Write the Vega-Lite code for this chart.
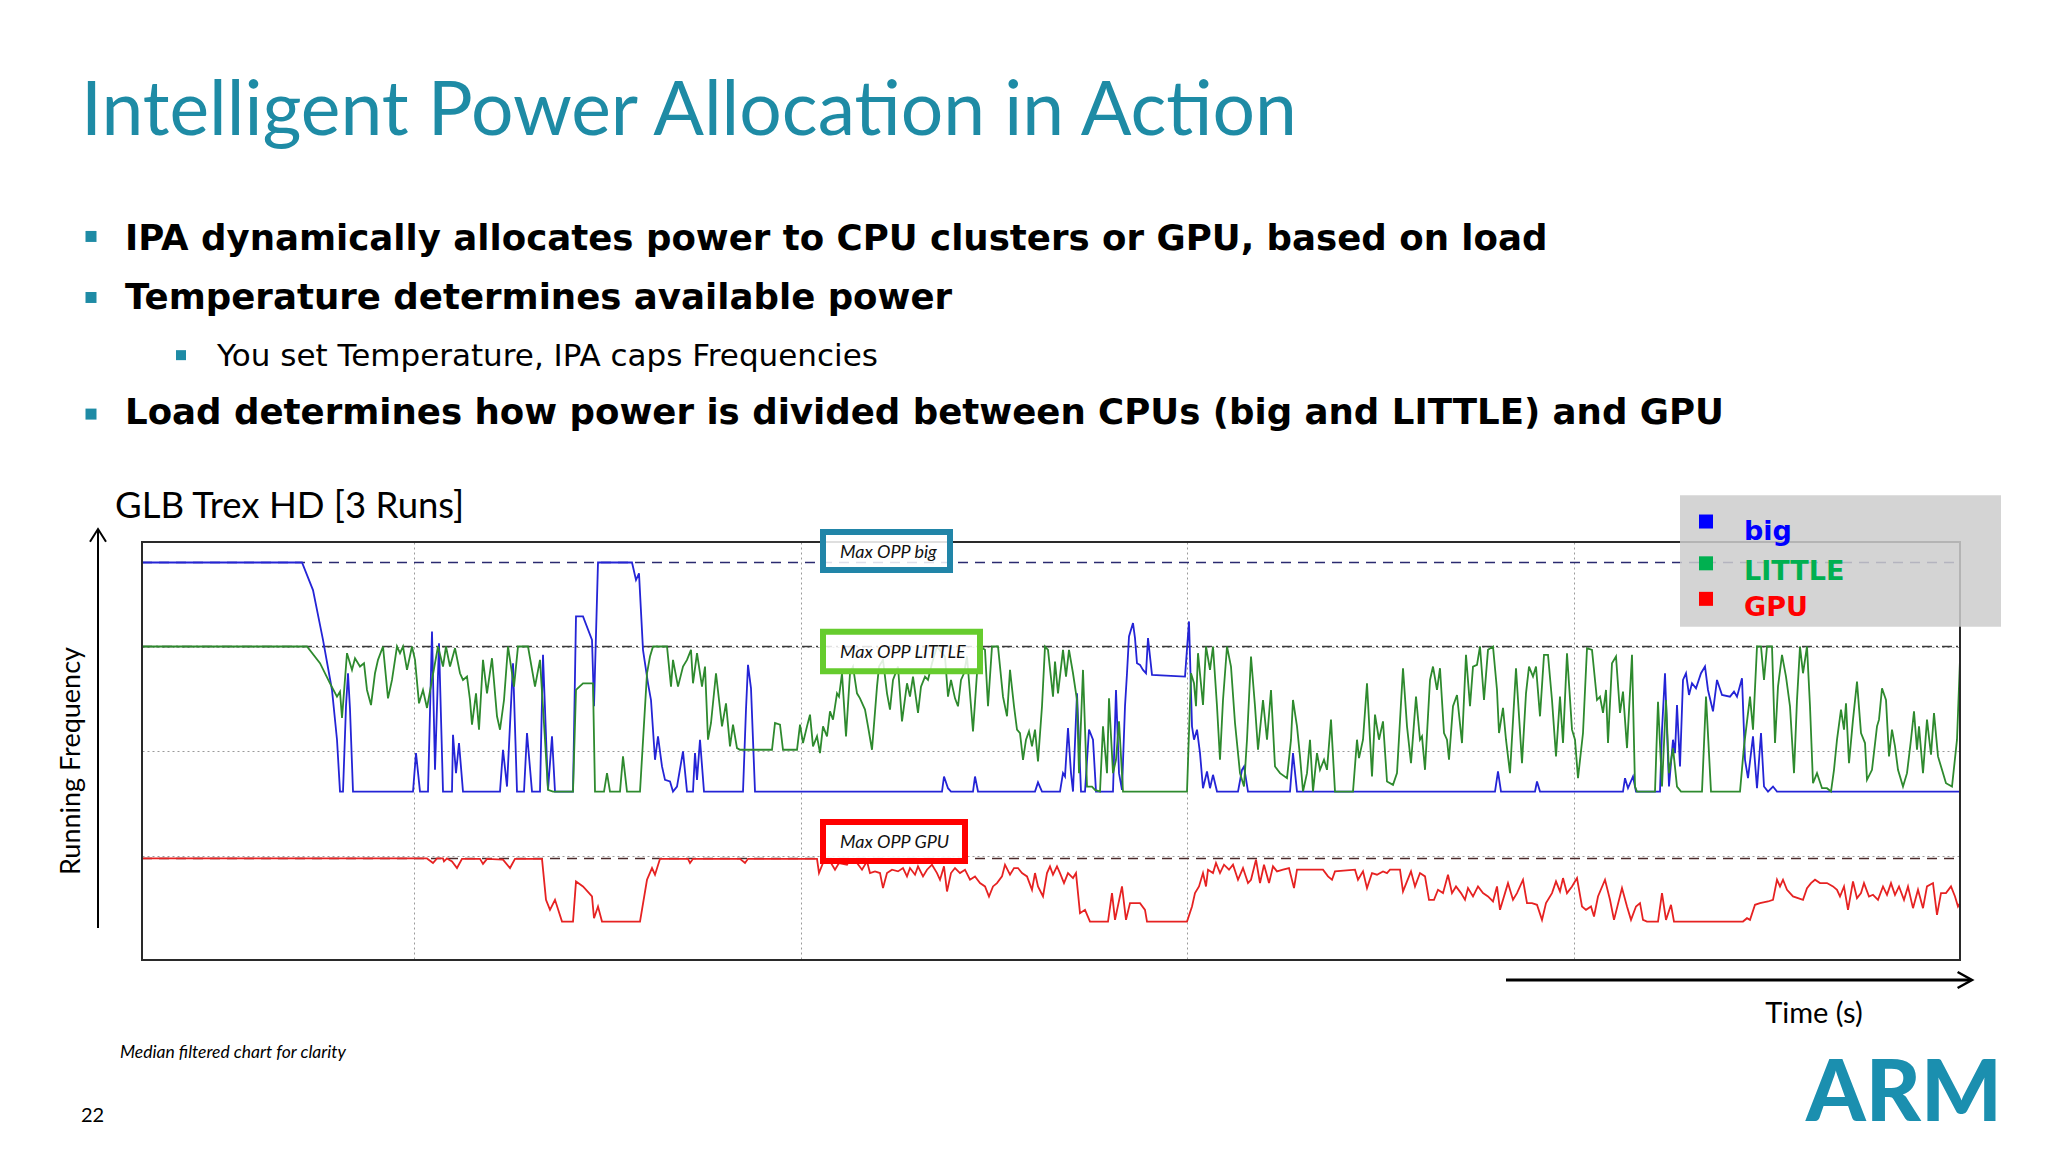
{
"$schema": "https://vega.github.io/schema/vega-lite/v6.json",
"width": 1818, "height": 418,
"autosize": {"type": "none"},
"padding": {"left": 142, "top": 542, "right": 88, "bottom": 192},
"background": "#ffffff",
"config": {"view": {"stroke": null}, "font": "Lato"},
"data": {"values": [{}]},
"layer": [
{"mark": {"type": "rule", "stroke": "#2b2b70", "strokeWidth": 1.5, "strokeDash": [10, 7]}, "encoding": {"x": {"datum": 0, "type": "quantitative"}, "x2": {"datum": 181.8}, "y": {"datum": 95.1, "type": "quantitative"}}},
{"mark": {"type": "rule", "stroke": "#3a3a3a", "strokeWidth": 1.5, "strokeDash": [10, 4, 2, 4]}, "encoding": {"x": {"datum": 0, "type": "quantitative"}, "x2": {"datum": 181.8}, "y": {"datum": 75.0, "type": "quantitative"}}},
{"mark": {"type": "rule", "stroke": "#4d2b2b", "strokeWidth": 1.5, "strokeDash": [10, 7]}, "encoding": {"x": {"datum": 0, "type": "quantitative"}, "x2": {"datum": 181.8}, "y": {"datum": 24.3, "type": "quantitative"}}},
{"data": {"values": [
{"s":"big","t":0,"v":95.1},{"s":"big","t":16.0,"v":95.1},{"s":"big","t":17.1,"v":88.5},{"s":"big","t":18.1,"v":76.6},{"s":"big","t":19.0,"v":64.6},{"s":"big","t":19.5,"v":52.7},{"s":"big","t":19.8,"v":40.3},{"s":"big","t":20.1,"v":40.3},{"s":"big","t":20.4,"v":60.7},{"s":"big","t":20.6,"v":68.6},{"s":"big","t":20.8,"v":60.0},{"s":"big","t":21.1,"v":40.3},{"s":"big","t":27.1,"v":40.3},{"s":"big","t":27.4,"v":49.5},{"s":"big","t":27.8,"v":40.3},{"s":"big","t":28.6,"v":40.3},{"s":"big","t":29.0,"v":78.6},{"s":"big","t":29.3,"v":45.5},{"s":"big","t":29.7,"v":75.8},{"s":"big","t":30.1,"v":40.3},{"s":"big","t":31.0,"v":40.3},{"s":"big","t":31.1,"v":53.9},{"s":"big","t":31.4,"v":44.7},{"s":"big","t":31.7,"v":51.9},{"s":"big","t":32.1,"v":40.3},{"s":"big","t":35.8,"v":40.3},{"s":"big","t":36.1,"v":50.3},{"s":"big","t":36.5,"v":41.5},{"s":"big","t":37.1,"v":71.0},{"s":"big","t":37.5,"v":40.3},{"s":"big","t":38.2,"v":40.3},{"s":"big","t":38.5,"v":54.3},{"s":"big","t":39.0,"v":40.3},{"s":"big","t":39.8,"v":40.3},{"s":"big","t":40.1,"v":73.0},{"s":"big","t":40.6,"v":40.7},{"s":"big","t":41.0,"v":53.5},{"s":"big","t":41.3,"v":40.3},{"s":"big","t":43.1,"v":40.3},{"s":"big","t":43.4,"v":82.2},{"s":"big","t":44.1,"v":82.2},{"s":"big","t":45.0,"v":76.6},{"s":"big","t":45.2,"v":60.7},{"s":"big","t":45.6,"v":95.1},{"s":"big","t":49.0,"v":95.1},{"s":"big","t":49.4,"v":90.9},{"s":"big","t":49.7,"v":92.5},{"s":"big","t":50.1,"v":74.2},{"s":"big","t":50.6,"v":66.2},{"s":"big","t":50.9,"v":62.2},{"s":"big","t":51.3,"v":47.9},{"s":"big","t":51.6,"v":53.5},{"s":"big","t":52.0,"v":46.3},{"s":"big","t":52.3,"v":43.1},{"s":"big","t":52.8,"v":42.7},{"s":"big","t":53.1,"v":40.3},{"s":"big","t":53.5,"v":41.5},{"s":"big","t":54.1,"v":49.9},{"s":"big","t":54.5,"v":40.3},{"s":"big","t":55.1,"v":40.3},{"s":"big","t":55.3,"v":49.5},{"s":"big","t":55.5,"v":43.1},{"s":"big","t":55.8,"v":52.7},{"s":"big","t":56.2,"v":40.3},{"s":"big","t":60.1,"v":40.3},{"s":"big","t":60.4,"v":60.0},{"s":"big","t":60.6,"v":70.6},{"s":"big","t":60.9,"v":65.0},{"s":"big","t":61.3,"v":40.3},{"s":"big","t":80.0,"v":40.3},{"s":"big","t":80.2,"v":43.9},{"s":"big","t":80.6,"v":41.1},{"s":"big","t":80.9,"v":40.3},{"s":"big","t":83.1,"v":40.3},{"s":"big","t":83.3,"v":43.9},{"s":"big","t":83.6,"v":40.3},{"s":"big","t":89.3,"v":40.3},{"s":"big","t":89.6,"v":42.5},{"s":"big","t":90.0,"v":40.3},{"s":"big","t":91.8,"v":40.3},{"s":"big","t":92.1,"v":44.7},{"s":"big","t":92.3,"v":43.9},{"s":"big","t":92.6,"v":55.5},{"s":"big","t":92.9,"v":44.7},{"s":"big","t":93.1,"v":40.3},{"s":"big","t":93.5,"v":63.8},{"s":"big","t":93.9,"v":40.3},{"s":"big","t":94.3,"v":40.3},{"s":"big","t":94.7,"v":55.1},{"s":"big","t":95.1,"v":52.7},{"s":"big","t":95.4,"v":40.3},{"s":"big","t":97.1,"v":40.3},{"s":"big","t":97.4,"v":64.6},{"s":"big","t":97.7,"v":44.7},{"s":"big","t":98.0,"v":40.7},{"s":"big","t":98.3,"v":60.7},{"s":"big","t":98.5,"v":68.6},{"s":"big","t":98.7,"v":77.4},{"s":"big","t":99.1,"v":80.6},{"s":"big","t":99.3,"v":77.0},{"s":"big","t":99.5,"v":71.0},{"s":"big","t":99.8,"v":70.6},{"s":"big","t":100.1,"v":69.4},{"s":"big","t":100.4,"v":68.6},{"s":"big","t":100.6,"v":77.0},{"s":"big","t":101.0,"v":68.2},{"s":"big","t":104.3,"v":67.8},{"s":"big","t":104.7,"v":81.0},{"s":"big","t":105.0,"v":55.9},{"s":"big","t":105.2,"v":52.7},{"s":"big","t":105.5,"v":55.1},{"s":"big","t":105.8,"v":49.5},{"s":"big","t":106.1,"v":41.1},{"s":"big","t":106.5,"v":45.1},{"s":"big","t":106.8,"v":41.1},{"s":"big","t":107.1,"v":44.3},{"s":"big","t":107.5,"v":40.3},{"s":"big","t":109.6,"v":40.3},{"s":"big","t":110.0,"v":45.5},{"s":"big","t":110.2,"v":46.3},{"s":"big","t":110.6,"v":40.3},{"s":"big","t":114.8,"v":40.3},{"s":"big","t":115.1,"v":49.5},{"s":"big","t":115.5,"v":40.3},{"s":"big","t":135.3,"v":40.3},{"s":"big","t":135.6,"v":45.1},{"s":"big","t":135.9,"v":40.3},{"s":"big","t":139.3,"v":40.3},{"s":"big","t":139.5,"v":42.7},{"s":"big","t":139.8,"v":40.3},{"s":"big","t":148.1,"v":40.3},{"s":"big","t":148.3,"v":43.5},{"s":"big","t":148.6,"v":41.1},{"s":"big","t":149.1,"v":43.9},{"s":"big","t":149.4,"v":40.3},{"s":"big","t":151.8,"v":40.3},{"s":"big","t":152.0,"v":55.0},{"s":"big","t":152.3,"v":68.6},{"s":"big","t":152.7,"v":41.5},{"s":"big","t":153.1,"v":52.7},{"s":"big","t":153.3,"v":49.5},{"s":"big","t":153.5,"v":61.0},{"s":"big","t":153.8,"v":46.3},{"s":"big","t":154.1,"v":67.0},{"s":"big","t":154.4,"v":68.6},{"s":"big","t":154.7,"v":63.4},{"s":"big","t":155.0,"v":66.2},{"s":"big","t":155.4,"v":65.0},{"s":"big","t":155.9,"v":68.6},{"s":"big","t":156.3,"v":70.2},{"s":"big","t":156.6,"v":64.6},{"s":"big","t":157.1,"v":59.5},{"s":"big","t":157.5,"v":67.0},{"s":"big","t":158.0,"v":63.4},{"s":"big","t":158.8,"v":63.0},{"s":"big","t":159.2,"v":64.2},{"s":"big","t":159.5,"v":63.0},{"s":"big","t":160.0,"v":67.4},{"s":"big","t":160.3,"v":47.9},{"s":"big","t":160.6,"v":43.5},{"s":"big","t":161.1,"v":53.5},{"s":"big","t":161.5,"v":41.1},{"s":"big","t":161.9,"v":54.3},{"s":"big","t":162.2,"v":41.5},{"s":"big","t":162.6,"v":40.3},{"s":"big","t":163.1,"v":41.5},{"s":"big","t":163.5,"v":40.3},{"s":"big","t":181.8,"v":40.3},
{"s":"LITTLE","t":0,"v":75.0},{"s":"LITTLE","t":16.5,"v":75.0},{"s":"LITTLE","t":17.8,"v":71.0},{"s":"LITTLE","t":18.8,"v":66.2},{"s":"LITTLE","t":19.5,"v":63.0},{"s":"LITTLE","t":19.8,"v":64.2},{"s":"LITTLE","t":20.0,"v":57.9},{"s":"LITTLE","t":20.5,"v":73.4},{"s":"LITTLE","t":21.0,"v":69.4},{"s":"LITTLE","t":21.3,"v":72.2},{"s":"LITTLE","t":21.8,"v":70.2},{"s":"LITTLE","t":22.2,"v":71.0},{"s":"LITTLE","t":22.5,"v":64.6},{"s":"LITTLE","t":22.9,"v":61.0},{"s":"LITTLE","t":23.3,"v":68.6},{"s":"LITTLE","t":23.6,"v":71.8},{"s":"LITTLE","t":24.1,"v":75.0},{"s":"LITTLE","t":24.6,"v":62.6},{"s":"LITTLE","t":25.0,"v":67.0},{"s":"LITTLE","t":25.5,"v":75.0},{"s":"LITTLE","t":25.8,"v":73.4},{"s":"LITTLE","t":26.1,"v":75.0},{"s":"LITTLE","t":26.5,"v":69.4},{"s":"LITTLE","t":27.0,"v":75.0},{"s":"LITTLE","t":27.3,"v":71.8},{"s":"LITTLE","t":27.7,"v":61.4},{"s":"LITTLE","t":28.1,"v":64.6},{"s":"LITTLE","t":28.5,"v":60.3},{"s":"LITTLE","t":29.0,"v":67.0},{"s":"LITTLE","t":29.6,"v":75.0},{"s":"LITTLE","t":30.1,"v":70.2},{"s":"LITTLE","t":30.4,"v":75.0},{"s":"LITTLE","t":30.8,"v":70.2},{"s":"LITTLE","t":31.3,"v":74.6},{"s":"LITTLE","t":31.8,"v":68.6},{"s":"LITTLE","t":32.1,"v":67.0},{"s":"LITTLE","t":32.5,"v":67.8},{"s":"LITTLE","t":32.8,"v":62.2},{"s":"LITTLE","t":33.0,"v":56.3},{"s":"LITTLE","t":33.4,"v":63.8},{"s":"LITTLE","t":33.7,"v":55.1},{"s":"LITTLE","t":34.1,"v":71.8},{"s":"LITTLE","t":34.5,"v":63.8},{"s":"LITTLE","t":35.0,"v":72.2},{"s":"LITTLE","t":35.5,"v":58.3},{"s":"LITTLE","t":35.8,"v":55.1},{"s":"LITTLE","t":36.2,"v":62.2},{"s":"LITTLE","t":36.6,"v":75.0},{"s":"LITTLE","t":37.2,"v":65.4},{"s":"LITTLE","t":37.6,"v":75.0},{"s":"LITTLE","t":38.6,"v":75.0},{"s":"LITTLE","t":39.3,"v":65.4},{"s":"LITTLE","t":39.8,"v":71.8},{"s":"LITTLE","t":40.3,"v":52.7},{"s":"LITTLE","t":40.6,"v":40.7},{"s":"LITTLE","t":41.1,"v":40.3},{"s":"LITTLE","t":43.1,"v":40.3},{"s":"LITTLE","t":43.4,"v":64.6},{"s":"LITTLE","t":44.1,"v":66.2},{"s":"LITTLE","t":45.1,"v":66.2},{"s":"LITTLE","t":45.3,"v":40.3},{"s":"LITTLE","t":46.2,"v":40.3},{"s":"LITTLE","t":46.5,"v":44.7},{"s":"LITTLE","t":46.8,"v":40.3},{"s":"LITTLE","t":47.8,"v":40.3},{"s":"LITTLE","t":48.1,"v":48.7},{"s":"LITTLE","t":48.5,"v":40.3},{"s":"LITTLE","t":49.8,"v":40.3},{"s":"LITTLE","t":50.5,"v":68.6},{"s":"LITTLE","t":50.8,"v":72.6},{"s":"LITTLE","t":51.1,"v":75.0},{"s":"LITTLE","t":52.5,"v":75.0},{"s":"LITTLE","t":52.9,"v":65.4},{"s":"LITTLE","t":53.1,"v":71.8},{"s":"LITTLE","t":53.6,"v":65.4},{"s":"LITTLE","t":54.1,"v":70.2},{"s":"LITTLE","t":54.5,"v":71.8},{"s":"LITTLE","t":54.9,"v":74.2},{"s":"LITTLE","t":55.1,"v":66.2},{"s":"LITTLE","t":55.5,"v":73.4},{"s":"LITTLE","t":56.0,"v":65.4},{"s":"LITTLE","t":56.3,"v":70.2},{"s":"LITTLE","t":56.6,"v":52.7},{"s":"LITTLE","t":56.9,"v":56.7},{"s":"LITTLE","t":57.4,"v":68.6},{"s":"LITTLE","t":58.0,"v":55.9},{"s":"LITTLE","t":58.4,"v":61.4},{"s":"LITTLE","t":58.8,"v":51.1},{"s":"LITTLE","t":59.1,"v":56.3},{"s":"LITTLE","t":59.5,"v":50.7},{"s":"LITTLE","t":59.8,"v":50.3},{"s":"LITTLE","t":63.0,"v":50.3},{"s":"LITTLE","t":63.3,"v":56.7},{"s":"LITTLE","t":63.8,"v":56.3},{"s":"LITTLE","t":64.1,"v":50.3},{"s":"LITTLE","t":65.5,"v":50.3},{"s":"LITTLE","t":65.8,"v":56.3},{"s":"LITTLE","t":66.1,"v":51.9},{"s":"LITTLE","t":66.5,"v":55.9},{"s":"LITTLE","t":66.8,"v":58.7},{"s":"LITTLE","t":67.1,"v":51.1},{"s":"LITTLE","t":67.5,"v":53.5},{"s":"LITTLE","t":67.8,"v":49.5},{"s":"LITTLE","t":68.1,"v":55.9},{"s":"LITTLE","t":68.5,"v":53.5},{"s":"LITTLE","t":68.8,"v":59.5},{"s":"LITTLE","t":69.1,"v":57.5},{"s":"LITTLE","t":69.5,"v":63.8},{"s":"LITTLE","t":69.7,"v":63.0},{"s":"LITTLE","t":70.0,"v":68.6},{"s":"LITTLE","t":70.4,"v":53.5},{"s":"LITTLE","t":70.8,"v":68.6},{"s":"LITTLE","t":71.1,"v":70.2},{"s":"LITTLE","t":71.5,"v":63.8},{"s":"LITTLE","t":71.8,"v":62.6},{"s":"LITTLE","t":72.3,"v":59.9},{"s":"LITTLE","t":72.6,"v":55.9},{"s":"LITTLE","t":73.0,"v":50.3},{"s":"LITTLE","t":73.5,"v":65.4},{"s":"LITTLE","t":73.7,"v":70.2},{"s":"LITTLE","t":74.1,"v":71.8},{"s":"LITTLE","t":74.5,"v":63.8},{"s":"LITTLE","t":74.8,"v":59.9},{"s":"LITTLE","t":75.1,"v":67.0},{"s":"LITTLE","t":75.6,"v":70.2},{"s":"LITTLE","t":76.0,"v":57.1},{"s":"LITTLE","t":76.5,"v":66.2},{"s":"LITTLE","t":76.8,"v":63.0},{"s":"LITTLE","t":77.1,"v":67.8},{"s":"LITTLE","t":77.6,"v":59.1},{"s":"LITTLE","t":77.9,"v":65.4},{"s":"LITTLE","t":78.3,"v":67.8},{"s":"LITTLE","t":78.6,"v":67.0},{"s":"LITTLE","t":79.0,"v":71.0},{"s":"LITTLE","t":79.5,"v":75.0},{"s":"LITTLE","t":80.0,"v":73.4},{"s":"LITTLE","t":80.3,"v":72.6},{"s":"LITTLE","t":80.6,"v":63.0},{"s":"LITTLE","t":80.9,"v":67.0},{"s":"LITTLE","t":81.3,"v":62.6},{"s":"LITTLE","t":81.6,"v":60.7},{"s":"LITTLE","t":81.9,"v":67.0},{"s":"LITTLE","t":82.2,"v":68.6},{"s":"LITTLE","t":82.5,"v":72.6},{"s":"LITTLE","t":82.9,"v":60.7},{"s":"LITTLE","t":83.1,"v":54.7},{"s":"LITTLE","t":83.5,"v":68.6},{"s":"LITTLE","t":83.8,"v":75.0},{"s":"LITTLE","t":84.3,"v":74.2},{"s":"LITTLE","t":84.6,"v":60.7},{"s":"LITTLE","t":85.0,"v":75.0},{"s":"LITTLE","t":85.6,"v":75.0},{"s":"LITTLE","t":86.1,"v":63.0},{"s":"LITTLE","t":86.5,"v":58.3},{"s":"LITTLE","t":86.8,"v":69.4},{"s":"LITTLE","t":87.2,"v":60.7},{"s":"LITTLE","t":87.5,"v":55.1},{"s":"LITTLE","t":87.8,"v":54.3},{"s":"LITTLE","t":88.1,"v":47.9},{"s":"LITTLE","t":88.4,"v":52.7},{"s":"LITTLE","t":88.7,"v":54.7},{"s":"LITTLE","t":89.0,"v":51.1},{"s":"LITTLE","t":89.3,"v":55.1},{"s":"LITTLE","t":89.6,"v":47.5},{"s":"LITTLE","t":90.0,"v":60.7},{"s":"LITTLE","t":90.3,"v":75.0},{"s":"LITTLE","t":90.6,"v":74.2},{"s":"LITTLE","t":91.1,"v":63.0},{"s":"LITTLE","t":91.3,"v":71.4},{"s":"LITTLE","t":91.6,"v":63.8},{"s":"LITTLE","t":92.1,"v":74.2},{"s":"LITTLE","t":92.4,"v":67.8},{"s":"LITTLE","t":92.7,"v":74.2},{"s":"LITTLE","t":93.1,"v":68.6},{"s":"LITTLE","t":93.5,"v":62.2},{"s":"LITTLE","t":93.7,"v":44.7},{"s":"LITTLE","t":94.1,"v":69.4},{"s":"LITTLE","t":94.5,"v":41.5},{"s":"LITTLE","t":95.0,"v":41.5},{"s":"LITTLE","t":95.3,"v":40.7},{"s":"LITTLE","t":95.8,"v":40.3},{"s":"LITTLE","t":96.1,"v":55.9},{"s":"LITTLE","t":96.5,"v":44.7},{"s":"LITTLE","t":96.7,"v":62.6},{"s":"LITTLE","t":97.1,"v":44.7},{"s":"LITTLE","t":97.4,"v":47.9},{"s":"LITTLE","t":97.7,"v":57.1},{"s":"LITTLE","t":98.1,"v":40.3},{"s":"LITTLE","t":104.5,"v":40.3},{"s":"LITTLE","t":104.9,"v":68.6},{"s":"LITTLE","t":105.2,"v":66.2},{"s":"LITTLE","t":105.4,"v":60.7},{"s":"LITTLE","t":105.6,"v":73.4},{"s":"LITTLE","t":106.1,"v":61.0},{"s":"LITTLE","t":106.4,"v":75.0},{"s":"LITTLE","t":106.8,"v":69.4},{"s":"LITTLE","t":107.1,"v":75.0},{"s":"LITTLE","t":107.5,"v":60.7},{"s":"LITTLE","t":107.8,"v":47.9},{"s":"LITTLE","t":108.1,"v":62.2},{"s":"LITTLE","t":108.5,"v":75.0},{"s":"LITTLE","t":108.9,"v":70.2},{"s":"LITTLE","t":109.3,"v":56.7},{"s":"LITTLE","t":109.8,"v":44.7},{"s":"LITTLE","t":110.2,"v":41.5},{"s":"LITTLE","t":110.5,"v":52.7},{"s":"LITTLE","t":110.9,"v":72.6},{"s":"LITTLE","t":111.3,"v":60.7},{"s":"LITTLE","t":111.6,"v":50.3},{"s":"LITTLE","t":112.1,"v":62.2},{"s":"LITTLE","t":112.5,"v":52.7},{"s":"LITTLE","t":112.9,"v":64.6},{"s":"LITTLE","t":113.3,"v":46.3},{"s":"LITTLE","t":113.8,"v":44.7},{"s":"LITTLE","t":114.5,"v":43.5},{"s":"LITTLE","t":114.9,"v":52.7},{"s":"LITTLE","t":115.1,"v":62.2},{"s":"LITTLE","t":115.5,"v":55.9},{"s":"LITTLE","t":115.8,"v":48.7},{"s":"LITTLE","t":116.1,"v":40.3},{"s":"LITTLE","t":116.5,"v":44.7},{"s":"LITTLE","t":116.8,"v":52.7},{"s":"LITTLE","t":117.1,"v":40.3},{"s":"LITTLE","t":117.5,"v":49.5},{"s":"LITTLE","t":117.8,"v":45.5},{"s":"LITTLE","t":118.2,"v":47.9},{"s":"LITTLE","t":118.5,"v":45.5},{"s":"LITTLE","t":118.9,"v":57.5},{"s":"LITTLE","t":119.3,"v":40.3},{"s":"LITTLE","t":121.1,"v":40.3},{"s":"LITTLE","t":121.5,"v":52.7},{"s":"LITTLE","t":121.7,"v":48.3},{"s":"LITTLE","t":122.1,"v":52.7},{"s":"LITTLE","t":122.5,"v":66.2},{"s":"LITTLE","t":123.0,"v":43.9},{"s":"LITTLE","t":123.3,"v":58.7},{"s":"LITTLE","t":123.7,"v":52.7},{"s":"LITTLE","t":124.1,"v":57.1},{"s":"LITTLE","t":124.5,"v":42.7},{"s":"LITTLE","t":125.1,"v":41.9},{"s":"LITTLE","t":125.5,"v":44.7},{"s":"LITTLE","t":126.1,"v":69.8},{"s":"LITTLE","t":126.5,"v":55.9},{"s":"LITTLE","t":126.9,"v":47.1},{"s":"LITTLE","t":127.4,"v":63.0},{"s":"LITTLE","t":127.8,"v":52.7},{"s":"LITTLE","t":128.0,"v":53.5},{"s":"LITTLE","t":128.3,"v":45.5},{"s":"LITTLE","t":128.8,"v":67.0},{"s":"LITTLE","t":129.1,"v":70.2},{"s":"LITTLE","t":129.5,"v":64.6},{"s":"LITTLE","t":129.8,"v":69.8},{"s":"LITTLE","t":130.2,"v":54.3},{"s":"LITTLE","t":130.5,"v":52.7},{"s":"LITTLE","t":130.7,"v":47.9},{"s":"LITTLE","t":131.1,"v":60.7},{"s":"LITTLE","t":131.5,"v":63.4},{"s":"LITTLE","t":132.0,"v":51.9},{"s":"LITTLE","t":132.4,"v":73.0},{"s":"LITTLE","t":132.8,"v":60.7},{"s":"LITTLE","t":133.1,"v":70.2},{"s":"LITTLE","t":133.5,"v":70.6},{"s":"LITTLE","t":133.8,"v":75.0},{"s":"LITTLE","t":134.2,"v":62.2},{"s":"LITTLE","t":134.6,"v":74.2},{"s":"LITTLE","t":135.1,"v":75.0},{"s":"LITTLE","t":135.5,"v":64.6},{"s":"LITTLE","t":135.7,"v":54.3},{"s":"LITTLE","t":136.1,"v":60.3},{"s":"LITTLE","t":136.4,"v":52.7},{"s":"LITTLE","t":136.8,"v":44.7},{"s":"LITTLE","t":137.4,"v":69.8},{"s":"LITTLE","t":138.0,"v":47.1},{"s":"LITTLE","t":138.4,"v":63.8},{"s":"LITTLE","t":138.7,"v":70.2},{"s":"LITTLE","t":139.1,"v":67.8},{"s":"LITTLE","t":139.4,"v":70.2},{"s":"LITTLE","t":139.8,"v":58.3},{"s":"LITTLE","t":140.2,"v":73.0},{"s":"LITTLE","t":140.6,"v":73.0},{"s":"LITTLE","t":141.0,"v":62.2},{"s":"LITTLE","t":141.4,"v":48.7},{"s":"LITTLE","t":141.8,"v":63.0},{"s":"LITTLE","t":142.1,"v":51.9},{"s":"LITTLE","t":142.5,"v":73.4},{"s":"LITTLE","t":143.0,"v":55.1},{"s":"LITTLE","t":143.3,"v":52.7},{"s":"LITTLE","t":143.6,"v":43.5},{"s":"LITTLE","t":144.1,"v":54.3},{"s":"LITTLE","t":144.5,"v":74.6},{"s":"LITTLE","t":145.0,"v":74.2},{"s":"LITTLE","t":145.5,"v":62.2},{"s":"LITTLE","t":145.8,"v":63.0},{"s":"LITTLE","t":146.1,"v":59.1},{"s":"LITTLE","t":146.4,"v":64.6},{"s":"LITTLE","t":146.6,"v":51.9},{"s":"LITTLE","t":147.0,"v":71.0},{"s":"LITTLE","t":147.4,"v":72.6},{"s":"LITTLE","t":147.8,"v":59.1},{"s":"LITTLE","t":148.1,"v":64.2},{"s":"LITTLE","t":148.5,"v":50.7},{"s":"LITTLE","t":149.0,"v":73.0},{"s":"LITTLE","t":149.3,"v":41.5},{"s":"LITTLE","t":149.5,"v":40.3},{"s":"LITTLE","t":151.3,"v":40.3},{"s":"LITTLE","t":151.6,"v":61.8},{"s":"LITTLE","t":152.0,"v":41.5},{"s":"LITTLE","t":152.4,"v":62.2},{"s":"LITTLE","t":152.7,"v":44.7},{"s":"LITTLE","t":153.1,"v":50.7},{"s":"LITTLE","t":153.5,"v":41.5},{"s":"LITTLE","t":153.9,"v":40.3},{"s":"LITTLE","t":156.0,"v":40.3},{"s":"LITTLE","t":156.4,"v":63.0},{"s":"LITTLE","t":156.9,"v":40.3},{"s":"LITTLE","t":159.8,"v":40.3},{"s":"LITTLE","t":160.2,"v":51.1},{"s":"LITTLE","t":160.8,"v":63.0},{"s":"LITTLE","t":161.1,"v":55.1},{"s":"LITTLE","t":161.5,"v":75.0},{"s":"LITTLE","t":161.9,"v":75.0},{"s":"LITTLE","t":162.2,"v":67.0},{"s":"LITTLE","t":162.5,"v":75.0},{"s":"LITTLE","t":163.0,"v":75.0},{"s":"LITTLE","t":163.3,"v":51.9},{"s":"LITTLE","t":163.6,"v":65.4},{"s":"LITTLE","t":164.0,"v":73.0},{"s":"LITTLE","t":164.4,"v":67.8},{"s":"LITTLE","t":164.8,"v":60.7},{"s":"LITTLE","t":165.2,"v":44.7},{"s":"LITTLE","t":165.5,"v":62.2},{"s":"LITTLE","t":165.8,"v":75.0},{"s":"LITTLE","t":166.1,"v":68.6},{"s":"LITTLE","t":166.5,"v":75.0},{"s":"LITTLE","t":166.8,"v":60.7},{"s":"LITTLE","t":167.1,"v":42.3},{"s":"LITTLE","t":167.5,"v":44.7},{"s":"LITTLE","t":168.0,"v":41.1},{"s":"LITTLE","t":168.5,"v":41.1},{"s":"LITTLE","t":168.9,"v":40.3},{"s":"LITTLE","t":169.2,"v":45.5},{"s":"LITTLE","t":169.5,"v":52.7},{"s":"LITTLE","t":169.9,"v":59.9},{"s":"LITTLE","t":170.2,"v":55.1},{"s":"LITTLE","t":170.4,"v":61.4},{"s":"LITTLE","t":170.7,"v":47.1},{"s":"LITTLE","t":171.1,"v":57.5},{"s":"LITTLE","t":171.5,"v":66.6},{"s":"LITTLE","t":171.9,"v":54.3},{"s":"LITTLE","t":172.3,"v":51.9},{"s":"LITTLE","t":172.5,"v":43.1},{"s":"LITTLE","t":173.0,"v":45.5},{"s":"LITTLE","t":173.5,"v":55.9},{"s":"LITTLE","t":173.7,"v":57.5},{"s":"LITTLE","t":174.0,"v":65.0},{"s":"LITTLE","t":174.4,"v":62.2},{"s":"LITTLE","t":174.7,"v":48.7},{"s":"LITTLE","t":175.0,"v":55.1},{"s":"LITTLE","t":175.3,"v":51.1},{"s":"LITTLE","t":175.6,"v":45.5},{"s":"LITTLE","t":176.1,"v":41.5},{"s":"LITTLE","t":176.5,"v":44.7},{"s":"LITTLE","t":176.9,"v":52.7},{"s":"LITTLE","t":177.2,"v":59.5},{"s":"LITTLE","t":177.5,"v":50.3},{"s":"LITTLE","t":177.7,"v":55.9},{"s":"LITTLE","t":178.1,"v":44.7},{"s":"LITTLE","t":178.5,"v":57.5},{"s":"LITTLE","t":178.9,"v":49.1},{"s":"LITTLE","t":179.2,"v":59.1},{"s":"LITTLE","t":179.6,"v":48.7},{"s":"LITTLE","t":180.0,"v":45.5},{"s":"LITTLE","t":180.4,"v":42.3},{"s":"LITTLE","t":181.0,"v":41.5},{"s":"LITTLE","t":181.5,"v":52.7},{"s":"LITTLE","t":181.8,"v":71.8},
{"s":"GPU","t":0,"v":24.3},{"s":"GPU","t":28.5,"v":24.3},{"s":"GPU","t":29.1,"v":23.2},{"s":"GPU","t":29.5,"v":24.3},{"s":"GPU","t":30.1,"v":24.3},{"s":"GPU","t":30.2,"v":23.6},{"s":"GPU","t":30.5,"v":24.3},{"s":"GPU","t":31.0,"v":23.6},{"s":"GPU","t":31.5,"v":22.0},{"s":"GPU","t":32.0,"v":24.2},{"s":"GPU","t":33.8,"v":24.2},{"s":"GPU","t":34.1,"v":23.0},{"s":"GPU","t":34.5,"v":24.2},{"s":"GPU","t":36.1,"v":24.0},{"s":"GPU","t":36.8,"v":22.0},{"s":"GPU","t":37.3,"v":24.2},{"s":"GPU","t":40.0,"v":24.2},{"s":"GPU","t":40.4,"v":14.4},{"s":"GPU","t":40.8,"v":12.0},{"s":"GPU","t":41.3,"v":14.4},{"s":"GPU","t":42.0,"v":9.2},{"s":"GPU","t":43.1,"v":9.2},{"s":"GPU","t":43.4,"v":18.8},{"s":"GPU","t":44.1,"v":17.6},{"s":"GPU","t":45.0,"v":15.2},{"s":"GPU","t":45.2,"v":10.0},{"s":"GPU","t":45.6,"v":12.8},{"s":"GPU","t":46.0,"v":9.2},{"s":"GPU","t":49.8,"v":9.2},{"s":"GPU","t":50.5,"v":19.2},{"s":"GPU","t":51.0,"v":22.0},{"s":"GPU","t":51.3,"v":20.4},{"s":"GPU","t":51.8,"v":24.2},{"s":"GPU","t":54.6,"v":24.2},{"s":"GPU","t":54.8,"v":23.2},{"s":"GPU","t":55.1,"v":24.2},{"s":"GPU","t":59.8,"v":24.2},{"s":"GPU","t":60.3,"v":23.2},{"s":"GPU","t":60.6,"v":24.2},{"s":"GPU","t":67.5,"v":24.2},{"s":"GPU","t":67.7,"v":20.8},{"s":"GPU","t":68.1,"v":23.2},{"s":"GPU","t":68.8,"v":23.6},{"s":"GPU","t":69.3,"v":21.6},{"s":"GPU","t":69.7,"v":23.2},{"s":"GPU","t":70.5,"v":22.8},{"s":"GPU","t":70.8,"v":24.0},{"s":"GPU","t":71.5,"v":23.2},{"s":"GPU","t":72.0,"v":21.6},{"s":"GPU","t":72.5,"v":23.6},{"s":"GPU","t":72.8,"v":20.8},{"s":"GPU","t":73.3,"v":21.2},{"s":"GPU","t":73.8,"v":20.8},{"s":"GPU","t":74.1,"v":17.2},{"s":"GPU","t":74.5,"v":20.8},{"s":"GPU","t":75.0,"v":21.6},{"s":"GPU","t":75.6,"v":21.2},{"s":"GPU","t":76.1,"v":22.0},{"s":"GPU","t":76.5,"v":20.0},{"s":"GPU","t":76.8,"v":22.0},{"s":"GPU","t":77.3,"v":20.4},{"s":"GPU","t":77.6,"v":22.4},{"s":"GPU","t":78.1,"v":20.0},{"s":"GPU","t":78.5,"v":21.6},{"s":"GPU","t":79.0,"v":22.8},{"s":"GPU","t":79.5,"v":20.8},{"s":"GPU","t":79.8,"v":19.2},{"s":"GPU","t":80.2,"v":22.4},{"s":"GPU","t":80.5,"v":16.4},{"s":"GPU","t":80.9,"v":20.8},{"s":"GPU","t":81.3,"v":22.0},{"s":"GPU","t":81.8,"v":20.8},{"s":"GPU","t":82.3,"v":21.6},{"s":"GPU","t":82.8,"v":19.2},{"s":"GPU","t":83.3,"v":20.0},{"s":"GPU","t":83.8,"v":18.4},{"s":"GPU","t":84.3,"v":17.6},{"s":"GPU","t":84.7,"v":15.2},{"s":"GPU","t":85.1,"v":17.6},{"s":"GPU","t":85.5,"v":18.4},{"s":"GPU","t":86.0,"v":20.0},{"s":"GPU","t":86.3,"v":22.8},{"s":"GPU","t":86.8,"v":20.4},{"s":"GPU","t":87.2,"v":22.0},{"s":"GPU","t":87.6,"v":22.0},{"s":"GPU","t":88.0,"v":20.8},{"s":"GPU","t":88.5,"v":20.0},{"s":"GPU","t":89.0,"v":16.8},{"s":"GPU","t":89.3,"v":20.8},{"s":"GPU","t":89.6,"v":17.6},{"s":"GPU","t":90.1,"v":15.2},{"s":"GPU","t":90.5,"v":20.8},{"s":"GPU","t":90.8,"v":22.4},{"s":"GPU","t":91.1,"v":20.4},{"s":"GPU","t":91.5,"v":22.4},{"s":"GPU","t":91.8,"v":20.8},{"s":"GPU","t":92.2,"v":18.4},{"s":"GPU","t":92.6,"v":20.8},{"s":"GPU","t":93.1,"v":19.6},{"s":"GPU","t":93.4,"v":20.8},{"s":"GPU","t":93.8,"v":11.2},{"s":"GPU","t":94.3,"v":12.0},{"s":"GPU","t":94.8,"v":9.2},{"s":"GPU","t":96.6,"v":9.2},{"s":"GPU","t":97.0,"v":16.0},{"s":"GPU","t":97.3,"v":9.6},{"s":"GPU","t":98.0,"v":17.6},{"s":"GPU","t":98.4,"v":9.6},{"s":"GPU","t":98.8,"v":13.6},{"s":"GPU","t":99.8,"v":13.6},{"s":"GPU","t":100.3,"v":12.0},{"s":"GPU","t":100.5,"v":9.2},{"s":"GPU","t":104.5,"v":9.2},{"s":"GPU","t":105.0,"v":12.8},{"s":"GPU","t":105.3,"v":16.0},{"s":"GPU","t":105.7,"v":17.6},{"s":"GPU","t":106.1,"v":20.8},{"s":"GPU","t":106.4,"v":17.6},{"s":"GPU","t":106.6,"v":21.6},{"s":"GPU","t":107.1,"v":20.8},{"s":"GPU","t":107.4,"v":23.2},{"s":"GPU","t":107.8,"v":20.8},{"s":"GPU","t":108.2,"v":22.8},{"s":"GPU","t":108.7,"v":21.6},{"s":"GPU","t":109.1,"v":22.8},{"s":"GPU","t":109.6,"v":19.2},{"s":"GPU","t":110.1,"v":22.0},{"s":"GPU","t":110.6,"v":18.4},{"s":"GPU","t":110.9,"v":19.2},{"s":"GPU","t":111.4,"v":24.0},{"s":"GPU","t":111.8,"v":18.4},{"s":"GPU","t":112.2,"v":22.8},{"s":"GPU","t":112.7,"v":18.4},{"s":"GPU","t":113.1,"v":22.4},{"s":"GPU","t":113.5,"v":21.2},{"s":"GPU","t":114.1,"v":21.6},{"s":"GPU","t":114.7,"v":22.0},{"s":"GPU","t":115.2,"v":17.2},{"s":"GPU","t":115.5,"v":21.6},{"s":"GPU","t":118.1,"v":21.6},{"s":"GPU","t":118.6,"v":20.0},{"s":"GPU","t":119.0,"v":19.2},{"s":"GPU","t":119.3,"v":21.2},{"s":"GPU","t":121.3,"v":21.6},{"s":"GPU","t":121.6,"v":19.2},{"s":"GPU","t":122.1,"v":21.2},{"s":"GPU","t":122.5,"v":17.2},{"s":"GPU","t":123.0,"v":20.8},{"s":"GPU","t":123.5,"v":20.4},{"s":"GPU","t":124.1,"v":21.2},{"s":"GPU","t":124.5,"v":20.8},{"s":"GPU","t":124.8,"v":21.6},{"s":"GPU","t":125.8,"v":21.6},{"s":"GPU","t":126.1,"v":16.4},{"s":"GPU","t":126.5,"v":18.8},{"s":"GPU","t":126.9,"v":21.2},{"s":"GPU","t":127.3,"v":17.6},{"s":"GPU","t":127.8,"v":20.8},{"s":"GPU","t":128.3,"v":20.0},{"s":"GPU","t":128.7,"v":14.4},{"s":"GPU","t":129.2,"v":14.4},{"s":"GPU","t":129.6,"v":16.8},{"s":"GPU","t":130.1,"v":16.0},{"s":"GPU","t":130.6,"v":20.4},{"s":"GPU","t":131.0,"v":16.0},{"s":"GPU","t":131.4,"v":17.6},{"s":"GPU","t":131.9,"v":16.0},{"s":"GPU","t":132.3,"v":14.4},{"s":"GPU","t":132.6,"v":17.2},{"s":"GPU","t":133.1,"v":15.2},{"s":"GPU","t":133.6,"v":17.6},{"s":"GPU","t":134.1,"v":16.0},{"s":"GPU","t":134.6,"v":15.2},{"s":"GPU","t":135.1,"v":14.0},{"s":"GPU","t":135.5,"v":17.6},{"s":"GPU","t":135.8,"v":12.0},{"s":"GPU","t":136.3,"v":16.0},{"s":"GPU","t":136.6,"v":18.4},{"s":"GPU","t":137.1,"v":14.4},{"s":"GPU","t":137.5,"v":16.0},{"s":"GPU","t":138.1,"v":19.2},{"s":"GPU","t":138.5,"v":13.6},{"s":"GPU","t":139.0,"v":13.6},{"s":"GPU","t":139.5,"v":13.2},{"s":"GPU","t":140.0,"v":9.6},{"s":"GPU","t":140.4,"v":13.6},{"s":"GPU","t":141.0,"v":16.0},{"s":"GPU","t":141.4,"v":18.8},{"s":"GPU","t":141.8,"v":16.4},{"s":"GPU","t":142.1,"v":19.6},{"s":"GPU","t":142.5,"v":16.0},{"s":"GPU","t":143.0,"v":17.6},{"s":"GPU","t":143.5,"v":19.6},{"s":"GPU","t":144.0,"v":12.8},{"s":"GPU","t":144.4,"v":12.0},{"s":"GPU","t":144.9,"v":12.8},{"s":"GPU","t":145.2,"v":10.4},{"s":"GPU","t":145.6,"v":15.2},{"s":"GPU","t":146.3,"v":19.2},{"s":"GPU","t":146.8,"v":14.4},{"s":"GPU","t":147.2,"v":9.6},{"s":"GPU","t":148.0,"v":17.2},{"s":"GPU","t":148.5,"v":12.8},{"s":"GPU","t":148.9,"v":9.6},{"s":"GPU","t":149.4,"v":12.8},{"s":"GPU","t":149.8,"v":13.6},{"s":"GPU","t":150.1,"v":9.6},{"s":"GPU","t":150.5,"v":9.2},{"s":"GPU","t":151.6,"v":9.2},{"s":"GPU","t":152.0,"v":16.0},{"s":"GPU","t":152.4,"v":9.6},{"s":"GPU","t":152.9,"v":13.2},{"s":"GPU","t":153.2,"v":9.2},{"s":"GPU","t":160.1,"v":9.2},{"s":"GPU","t":160.5,"v":10.0},{"s":"GPU","t":160.8,"v":9.6},{"s":"GPU","t":161.3,"v":13.2},{"s":"GPU","t":161.8,"v":13.6},{"s":"GPU","t":162.6,"v":14.0},{"s":"GPU","t":163.1,"v":14.4},{"s":"GPU","t":163.5,"v":19.2},{"s":"GPU","t":163.8,"v":17.6},{"s":"GPU","t":164.1,"v":19.2},{"s":"GPU","t":164.5,"v":16.8},{"s":"GPU","t":164.8,"v":16.0},{"s":"GPU","t":165.1,"v":15.2},{"s":"GPU","t":165.6,"v":14.8},{"s":"GPU","t":166.1,"v":14.4},{"s":"GPU","t":166.5,"v":17.2},{"s":"GPU","t":166.9,"v":18.4},{"s":"GPU","t":167.3,"v":19.2},{"s":"GPU","t":167.8,"v":18.4},{"s":"GPU","t":168.5,"v":18.4},{"s":"GPU","t":169.1,"v":17.6},{"s":"GPU","t":169.5,"v":16.8},{"s":"GPU","t":169.8,"v":15.2},{"s":"GPU","t":170.2,"v":17.6},{"s":"GPU","t":170.6,"v":12.0},{"s":"GPU","t":171.1,"v":18.8},{"s":"GPU","t":171.5,"v":14.8},{"s":"GPU","t":171.9,"v":16.0},{"s":"GPU","t":172.2,"v":18.4},{"s":"GPU","t":172.7,"v":15.2},{"s":"GPU","t":173.1,"v":15.6},{"s":"GPU","t":173.6,"v":14.4},{"s":"GPU","t":174.1,"v":17.6},{"s":"GPU","t":174.5,"v":15.6},{"s":"GPU","t":174.9,"v":18.4},{"s":"GPU","t":175.3,"v":15.6},{"s":"GPU","t":175.7,"v":17.6},{"s":"GPU","t":176.2,"v":14.4},{"s":"GPU","t":176.6,"v":17.6},{"s":"GPU","t":177.1,"v":12.4},{"s":"GPU","t":177.6,"v":16.8},{"s":"GPU","t":178.1,"v":12.4},{"s":"GPU","t":178.5,"v":17.6},{"s":"GPU","t":179.1,"v":18.4},{"s":"GPU","t":179.5,"v":10.8},{"s":"GPU","t":179.9,"v":16.0},{"s":"GPU","t":180.4,"v":16.0},{"s":"GPU","t":180.9,"v":17.6},{"s":"GPU","t":181.3,"v":15.2},{"s":"GPU","t":181.6,"v":12.8},{"s":"GPU","t":181.8,"v":13.6}
]},
"mark": {"type": "line", "strokeWidth": 1.8},
"encoding": {
"x": {"field": "t", "type": "quantitative", "scale": {"domain": [0, 181.8], "nice": false, "zero": false}, "axis": {"values": [27.2, 65.9, 104.5, 143.2], "grid": true, "gridDash": [2, 3], "gridColor": "#9a9a9a", "gridWidth": 1, "labels": false, "ticks": false, "domain": false, "title": null}},
"y": {"field": "v", "type": "quantitative", "scale": {"domain": [0, 100], "nice": false, "zero": false}, "axis": {"values": [25, 50, 75], "grid": true, "gridDash": [2, 3], "gridColor": "#9a9a9a", "gridWidth": 1, "labels": false, "ticks": false, "domain": false, "title": null}},
"color": {"field": "s", "type": "nominal", "scale": {"domain": ["big", "LITTLE", "GPU"], "range": ["#2424d6", "#2e8a2e", "#e62222"]}, "legend": null}
}},
{"mark": {"type": "rect", "fillOpacity": 0, "stroke": "#2a2a2a", "strokeWidth": 2}, "encoding": {"x": {"datum": 0, "type": "quantitative"}, "x2": {"datum": 181.8}, "y": {"datum": 0, "type": "quantitative"}, "y2": {"datum": 100}}},
{"mark": {"type": "rect", "fill": "#ffffff", "fillOpacity": 0.85, "stroke": "#2185a8", "strokeWidth": 6}, "encoding": {"x": {"datum": 68.1, "type": "quantitative"}, "x2": {"datum": 80.8}, "y": {"datum": 93.3, "type": "quantitative"}, "y2": {"datum": 102.4}}},
{"mark": {"type": "rect", "fill": "#ffffff", "fillOpacity": 0.85, "stroke": "#66cc2e", "strokeWidth": 6}, "encoding": {"x": {"datum": 68.1, "type": "quantitative"}, "x2": {"datum": 83.8}, "y": {"datum": 69.1, "type": "quantitative"}, "y2": {"datum": 78.5}}},
{"mark": {"type": "rect", "fill": "#ffffff", "fillOpacity": 0.85, "stroke": "#ff0000", "strokeWidth": 6}, "encoding": {"x": {"datum": 68.1, "type": "quantitative"}, "x2": {"datum": 82.3}, "y": {"datum": 23.7, "type": "quantitative"}, "y2": {"datum": 33.0}}},
{"mark": {"type": "text", "text": "Max OPP big", "font": "Lato", "fontStyle": "italic", "fontSize": 18, "color": "#111111", "align": "left", "baseline": "alphabetic"}, "encoding": {"x": {"datum": 69.8, "type": "quantitative"}, "y": {"datum": 96.2, "type": "quantitative"}}},
{"mark": {"type": "text", "text": "Max OPP LITTLE", "font": "Lato", "fontStyle": "italic", "fontSize": 18, "color": "#111111", "align": "left", "baseline": "alphabetic"}, "encoding": {"x": {"datum": 69.8, "type": "quantitative"}, "y": {"datum": 72.2, "type": "quantitative"}}},
{"mark": {"type": "text", "text": "Max OPP GPU", "font": "Lato", "fontStyle": "italic", "fontSize": 18, "color": "#111111", "align": "left", "baseline": "alphabetic"}, "encoding": {"x": {"datum": 69.8, "type": "quantitative"}, "y": {"datum": 26.8, "type": "quantitative"}}},
{"mark": {"type": "rect", "fill": "#cccccc", "fillOpacity": 0.85}, "encoding": {"x": {"datum": 153.8, "type": "quantitative"}, "x2": {"datum": 185.9}, "y": {"datum": 79.7, "type": "quantitative"}, "y2": {"datum": 111.2}}},
{"mark": {"type": "point", "shape": "square", "filled": true, "size": 196, "color": "#0000ff", "opacity": 1}, "encoding": {"x": {"datum": 156.4, "type": "quantitative"}, "y": {"datum": 104.9, "type": "quantitative"}}},
{"mark": {"type": "point", "shape": "square", "filled": true, "size": 196, "color": "#00b050", "opacity": 1}, "encoding": {"x": {"datum": 156.4, "type": "quantitative"}, "y": {"datum": 94.9, "type": "quantitative"}}},
{"mark": {"type": "point", "shape": "square", "filled": true, "size": 196, "color": "#ff0000", "opacity": 1}, "encoding": {"x": {"datum": 156.4, "type": "quantitative"}, "y": {"datum": 86.4, "type": "quantitative"}}},
{"mark": {"type": "text", "text": "big", "font": "DejaVu Sans", "fontWeight": "bold", "fontSize": 27, "color": "#0000ff", "align": "left", "baseline": "alphabetic"}, "encoding": {"x": {"datum": 160.2, "type": "quantitative"}, "y": {"datum": 100.5, "type": "quantitative"}}},
{"mark": {"type": "text", "text": "LITTLE", "font": "DejaVu Sans", "fontWeight": "bold", "fontSize": 27, "color": "#00b050", "align": "left", "baseline": "alphabetic"}, "encoding": {"x": {"datum": 160.2, "type": "quantitative"}, "y": {"datum": 90.9, "type": "quantitative"}}},
{"mark": {"type": "text", "text": "GPU", "font": "DejaVu Sans", "fontWeight": "bold", "fontSize": 27, "color": "#ff0000", "align": "left", "baseline": "alphabetic"}, "encoding": {"x": {"datum": 160.2, "type": "quantitative"}, "y": {"datum": 82.3, "type": "quantitative"}}},
{"mark": {"type": "text", "text": "Intelligent Power Allocation in Action", "font": "Lato", "fontSize": 75, "color": "#1e8ba5", "align": "left", "baseline": "alphabetic"}, "encoding": {"x": {"datum": -6.1, "type": "quantitative"}, "y": {"datum": 197.4, "type": "quantitative"}}},
{"mark": {"type": "point", "shape": "square", "filled": true, "size": 121, "color": "#1e8ba5", "opacity": 1}, "encoding": {"x": {"datum": -5.1, "type": "quantitative"}, "y": {"datum": 173.1, "type": "quantitative"}}},
{"mark": {"type": "point", "shape": "square", "filled": true, "size": 121, "color": "#1e8ba5", "opacity": 1}, "encoding": {"x": {"datum": -5.1, "type": "quantitative"}, "y": {"datum": 158.5, "type": "quantitative"}}},
{"mark": {"type": "point", "shape": "square", "filled": true, "size": 100, "color": "#1e8ba5", "opacity": 1}, "encoding": {"x": {"datum": 3.9, "type": "quantitative"}, "y": {"datum": 144.7, "type": "quantitative"}}},
{"mark": {"type": "point", "shape": "square", "filled": true, "size": 121, "color": "#1e8ba5", "opacity": 1}, "encoding": {"x": {"datum": -5.1, "type": "quantitative"}, "y": {"datum": 130.6, "type": "quantitative"}}},
{"mark": {"type": "text", "text": "IPA dynamically allocates power to CPU clusters or GPU, based on load", "font": "DejaVu Sans", "fontWeight": "bold", "fontSize": 35.6, "color": "#000000", "align": "left", "baseline": "alphabetic"}, "encoding": {"x": {"datum": -1.7, "type": "quantitative"}, "y": {"datum": 169.9, "type": "quantitative"}}},
{"mark": {"type": "text", "text": "Temperature determines available power", "font": "DejaVu Sans", "fontWeight": "bold", "fontSize": 35.6, "color": "#000000", "align": "left", "baseline": "alphabetic"}, "encoding": {"x": {"datum": -1.7, "type": "quantitative"}, "y": {"datum": 155.7, "type": "quantitative"}}},
{"mark": {"type": "text", "text": "You set Temperature, IPA caps Frequencies", "font": "DejaVu Sans", "fontSize": 31, "color": "#000000", "align": "left", "baseline": "alphabetic"}, "encoding": {"x": {"datum": 7.5, "type": "quantitative"}, "y": {"datum": 142.1, "type": "quantitative"}}},
{"mark": {"type": "text", "text": "Load determines how power is divided between CPUs (big and LITTLE) and GPU", "font": "DejaVu Sans", "fontWeight": "bold", "fontSize": 35.6, "color": "#000000", "align": "left", "baseline": "alphabetic"}, "encoding": {"x": {"datum": -1.7, "type": "quantitative"}, "y": {"datum": 128.2, "type": "quantitative"}}},
{"mark": {"type": "text", "text": "GLB Trex HD [3 Runs]", "font": "Lato", "fontSize": 36.5, "color": "#000000", "align": "left", "baseline": "alphabetic"}, "encoding": {"x": {"datum": -2.7, "type": "quantitative"}, "y": {"datum": 105.7, "type": "quantitative"}}},
{"mark": {"type": "text", "text": "Running Frequency", "font": "Lato", "fontSize": 27, "angle": 270, "color": "#000000", "align": "center", "baseline": "middle"}, "encoding": {"x": {"datum": -7.0, "type": "quantitative"}, "y": {"datum": 47.6, "type": "quantitative"}}},
{"mark": {"type": "rule", "stroke": "#000000", "strokeWidth": 2}, "encoding": {"x": {"datum": -4.4, "type": "quantitative"}, "y": {"datum": 7.66, "type": "quantitative"}, "y2": {"datum": 102.8}}},
{"mark": {"type": "point", "shape": "M-1,1.6L0,0L1,1.6", "filled": false, "size": 256, "stroke": "#000000", "strokeWidth": 2, "opacity": 1}, "encoding": {"x": {"datum": -4.4, "type": "quantitative"}, "y": {"datum": 103.1, "type": "quantitative"}}},
{"mark": {"type": "rule", "stroke": "#000000", "strokeWidth": 3}, "encoding": {"x": {"datum": 136.4, "type": "quantitative"}, "x2": {"datum": 182.8}, "y": {"datum": -4.78, "type": "quantitative"}}},
{"mark": {"type": "point", "shape": "M-1.8,-1L0,0L-1.8,1", "filled": false, "size": 256, "stroke": "#000000", "strokeWidth": 2.5, "opacity": 1}, "encoding": {"x": {"datum": 183.0, "type": "quantitative"}, "y": {"datum": -4.78, "type": "quantitative"}}},
{"mark": {"type": "text", "text": "Time (s)", "font": "Lato", "fontSize": 29, "color": "#000000", "align": "center", "baseline": "alphabetic"}, "encoding": {"x": {"datum": 167.2, "type": "quantitative"}, "y": {"datum": -15.1, "type": "quantitative"}}},
{"mark": {"type": "text", "text": "Median filtered chart for clarity", "font": "Lato", "fontStyle": "italic", "fontSize": 17.5, "color": "#000000", "align": "left", "baseline": "alphabetic"}, "encoding": {"x": {"datum": -2.2, "type": "quantitative"}, "y": {"datum": -23.4, "type": "quantitative"}}},
{"mark": {"type": "text", "text": "22", "font": "Lato", "fontSize": 20, "color": "#000000", "align": "left", "baseline": "alphabetic"}, "encoding": {"x": {"datum": -6.1, "type": "quantitative"}, "y": {"datum": -38.8, "type": "quantitative"}}},
{"mark": {"type": "text", "text": "ARM", "font": "Lato", "fontWeight": 900, "fontSize": 85, "color": "#1b8faf", "align": "left", "baseline": "alphabetic"}, "encoding": {"x": {"datum": 166.4, "type": "quantitative"}, "y": {"datum": -38.5, "type": "quantitative"}}}
]
}
